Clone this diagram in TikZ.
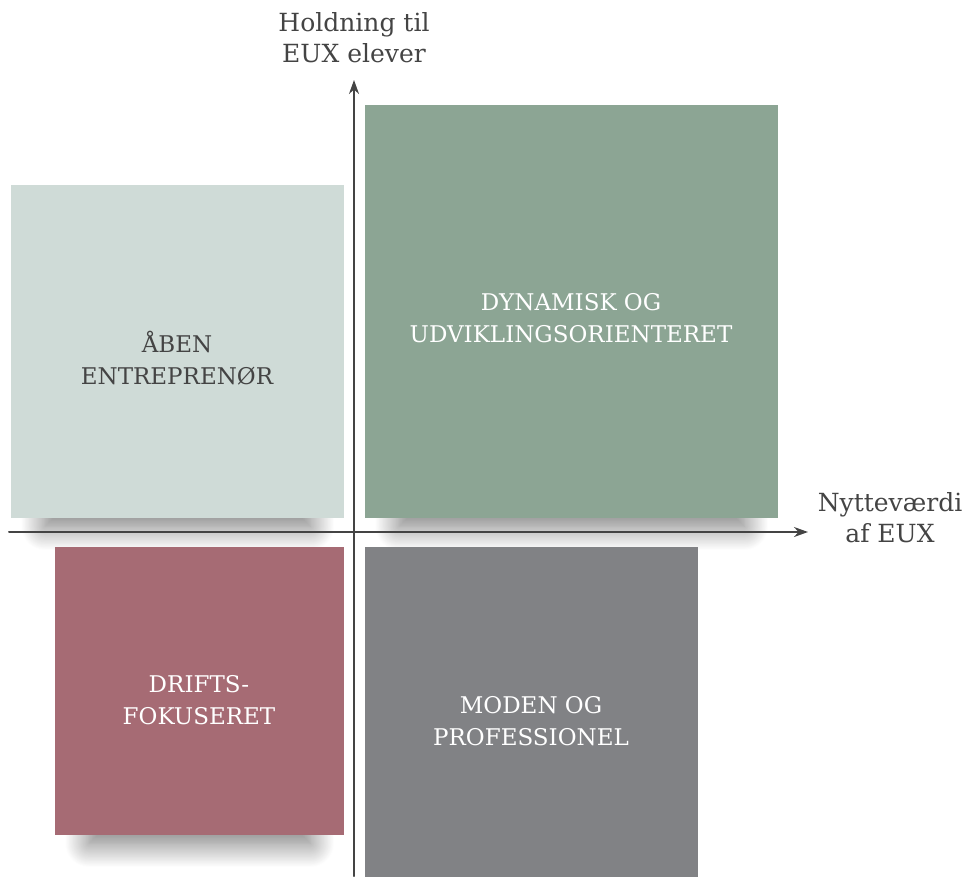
\documentclass[tikz,border=0pt]{standalone}
\usepackage{fontspec}
\setmainfont{DejaVu Serif}
\usetikzlibrary{shadows.blur,arrows.meta,backgrounds}
\definecolor{cLys}{HTML}{CFDBD7}
\definecolor{cGron}{HTML}{8CA594}
\definecolor{cRod}{HTML}{A66B74}
\definecolor{cGraa}{HTML}{818285}
\definecolor{cTekst}{HTML}{444444}
\begin{document}
\begin{tikzpicture}[x=1pt,y=-1pt,line join=round,line cap=round,>={Stealth[length=14pt,width=10pt]},
	felt/.style={anchor=north west,inner sep=0pt},
	skygge/.style={blur shadow={shadow xshift=0pt,shadow yshift=-8pt,shadow scale=1,
			shadow blur radius=24pt,shadow blur steps=30,shadow opacity=55}},
	felttekst/.style={text=white,align=center,inner sep=0pt,font=\fontsize{23}{32}\selectfont},
	akse/.style={draw=cTekst,line width=2pt},
	akselabel/.style={text=cTekst,align=center,font=\fontsize{25}{31}\selectfont,inner sep=0pt}]
	\useasboundingbox (0,0) rectangle (966,876);
	\node[felt,fill=cLys,minimum width=333pt,minimum height=333pt] (aaben) at (11,185) {};
	\node[felt,fill=cGron,minimum width=413pt,minimum height=413pt] (dynamisk) at (365,105) {};
	\node[felt,fill=cRod,minimum width=289pt,minimum height=288pt] (drift) at (55,547) {};
	\node[felt,fill=cGraa,minimum width=333pt,minimum height=340pt] (moden) at (365,547) {};
	% skygger under felterne
	\begin{scope}[on background layer]
		\foreach \f in {aaben,dynamisk,drift}
			\path[skygge] ([xshift=34pt,yshift=40pt]\f.south west) rectangle ([xshift=-34pt]\f.south east);
	\end{scope}
	\node[felttekst,text=cTekst] (aabentekst) at (177,358) {ÅBEN\\ENTREPRENØR};
	\node[felttekst] (dynamisktekst) at (571,318) {DYNAMISK OG\\UDVIKLINGSORIENTERET};
	\node[felttekst] (drifttekst) at (199,700) {DRIFTS-\\FOKUSERET};
	\node[felttekst] (modentekst) at (531,721) {MODEN OG\\PROFESSIONEL};
	% akser
	\coordinate (xstart) at (9,532); \coordinate (xslut) at (808,532);
	\coordinate (ystart) at (354,876); \coordinate (yslut) at (354,80);
	\draw[akse,->] (xstart) -- (xslut);
	\draw[akse,->] (ystart) -- (yslut);
	\node[akselabel] (holdning) at (354,38) {Holdning til\\EUX elever};
	\node[akselabel] (nytte) at (890,518) {Nytteværdi\\af EUX};
\end{tikzpicture}
\end{document}
